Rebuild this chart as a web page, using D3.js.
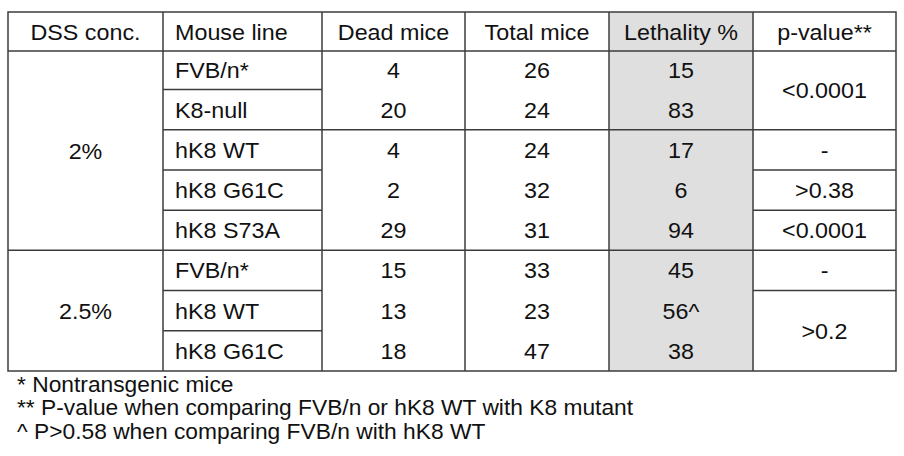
<!DOCTYPE html>
<html>
<head>
<meta charset="utf-8">
<script src="https://cdn.jsdelivr.net/npm/d3@7"></script>
<style>
  html, body { margin: 0; padding: 0; background: #fff; }
  svg { display: block; }
  text { font-family: "Liberation Sans", Arial, sans-serif; fill: #111; }
</style>
</head>
<body>
<svg id="chart" width="904" height="456"></svg>
<script>
// ---- data ----
const headers = ["DSS conc.", "Mouse line", "Dead mice", "Total mice", "Lethality %", "p-value**"];
const mouseLines = ["FVB/n*", "K8-null", "hK8 WT", "hK8 G61C", "hK8 S73A", "FVB/n*", "hK8 WT", "hK8 G61C"];
const deadMice = [4, 20, 4, 2, 29, 15, 13, 18];
const totalMice = [26, 24, 24, 32, 31, 33, 23, 47];
const lethality = ["15", "83", "17", "6", "94", "45", "56^", "38"];
// groups: [label, firstRow, lastRow]
const dssGroups = [["2%", 0, 4], ["2.5%", 5, 7]];
const pValues = [["<0.0001", 0, 1], ["-", 2, 2], [">0.38", 3, 3], ["<0.0001", 4, 4], ["-", 5, 5], [">0.2", 6, 7]];
// spans for dead/total/lethality horizontal rules
const countBlocks = [[0, 1], [2, 4], [5, 7]];
const footnotes = ["* Nontransgenic mice",
  "** P-value when comparing FVB/n or hK8 WT with K8 mutant",
  "^ P>0.58 when comparing FVB/n with hK8 WT"];

// ---- layout ----
const svg = d3.select("#chart");
const colEdges = [8, 163, 322, 465, 609, 753, 896];
const x = d3.scaleLinear().domain(d3.range(colEdges.length)).range(colEdges);
const yHeadTop = 12, yHeadBot = 51;
const y = d3.scaleLinear().domain([0, 1, 8]).range([51, 89.5, 371]);
const lineColor = "#3c3c3c", lw = 1.5;
const fontSize = 22, sx = 1.06, baseOff = 8;

// grey lethality column
svg.append("rect")
  .attr("x", x(4)).attr("y", yHeadTop)
  .attr("width", x(5) - x(4)).attr("height", y(8) - yHeadTop)
  .attr("fill", "#dfdfdf");

function addText(str, cx, cy, anchor) {
  svg.append("text")
    .attr("transform", `translate(${cx},${cy + baseOff}) scale(${sx},1)`)
    .attr("text-anchor", anchor || "middle")
    .attr("font-size", fontSize)
    .text(str);
}

// header
headers.forEach((h, i) => {
  if (i === 1) addText(h, x(1) + 12, (yHeadTop + yHeadBot) / 2, "start");
  else addText(h, (x(i) + x(i + 1)) / 2, (yHeadTop + yHeadBot) / 2);
});

const mid = (a, b) => (y(a) + y(b + 1)) / 2;

// body
dssGroups.forEach(([lab, a, b]) => addText(lab, (x(0) + x(1)) / 2, mid(a, b)));
mouseLines.forEach((m, i) => addText(m, x(1) + 12, mid(i, i), "start"));
deadMice.forEach((v, i) => addText(String(v), (x(2) + x(3)) / 2, mid(i, i)));
totalMice.forEach((v, i) => addText(String(v), (x(3) + x(4)) / 2, mid(i, i)));
lethality.forEach((v, i) => addText(v, (x(4) + x(5)) / 2, mid(i, i)));
pValues.forEach(([lab, a, b]) => addText(lab, (x(5) + x(6)) / 2, mid(a, b)));

// rules
const g = svg.append("g").attr("stroke", lineColor).attr("stroke-width", lw).attr("fill", "none");
function hline(x1, x2, yy) { g.append("line").attr("x1", x1).attr("x2", x2).attr("y1", yy).attr("y2", yy); }
function vline(xx, y1, y2) { g.append("line").attr("x1", xx).attr("x2", xx).attr("y1", y1).attr("y2", y2); }

// outer box
g.append("rect").attr("x", x(0)).attr("y", yHeadTop)
  .attr("width", x(6) - x(0)).attr("height", y(8) - yHeadTop);
// verticals
for (let i = 1; i < 6; i++) vline(x(i), yHeadTop, y(8));
// header bottom
hline(x(0), x(6), yHeadBot);
// DSS groups
dssGroups.forEach(([, a, b]) => { if (b < 7) hline(x(0), x(1), y(b + 1)); });
// mouse line rows
for (let i = 1; i < 8; i++) hline(x(1), x(2), y(i));
// count blocks
countBlocks.forEach(([a, b]) => { if (b < 7) hline(x(2), x(5), y(b + 1)); });
// p-value spans
pValues.forEach(([, a, b]) => { if (b < 7) hline(x(5), x(6), y(b + 1)); });

// footnotes
footnotes.forEach((f, i) => {
  svg.append("text")
    .attr("transform", `translate(17,${391.5 + i * 23.6}) scale(${sx},1)`)
    .attr("font-size", 21.5)
    .text(f);
});
</script>
</body>
</html>
